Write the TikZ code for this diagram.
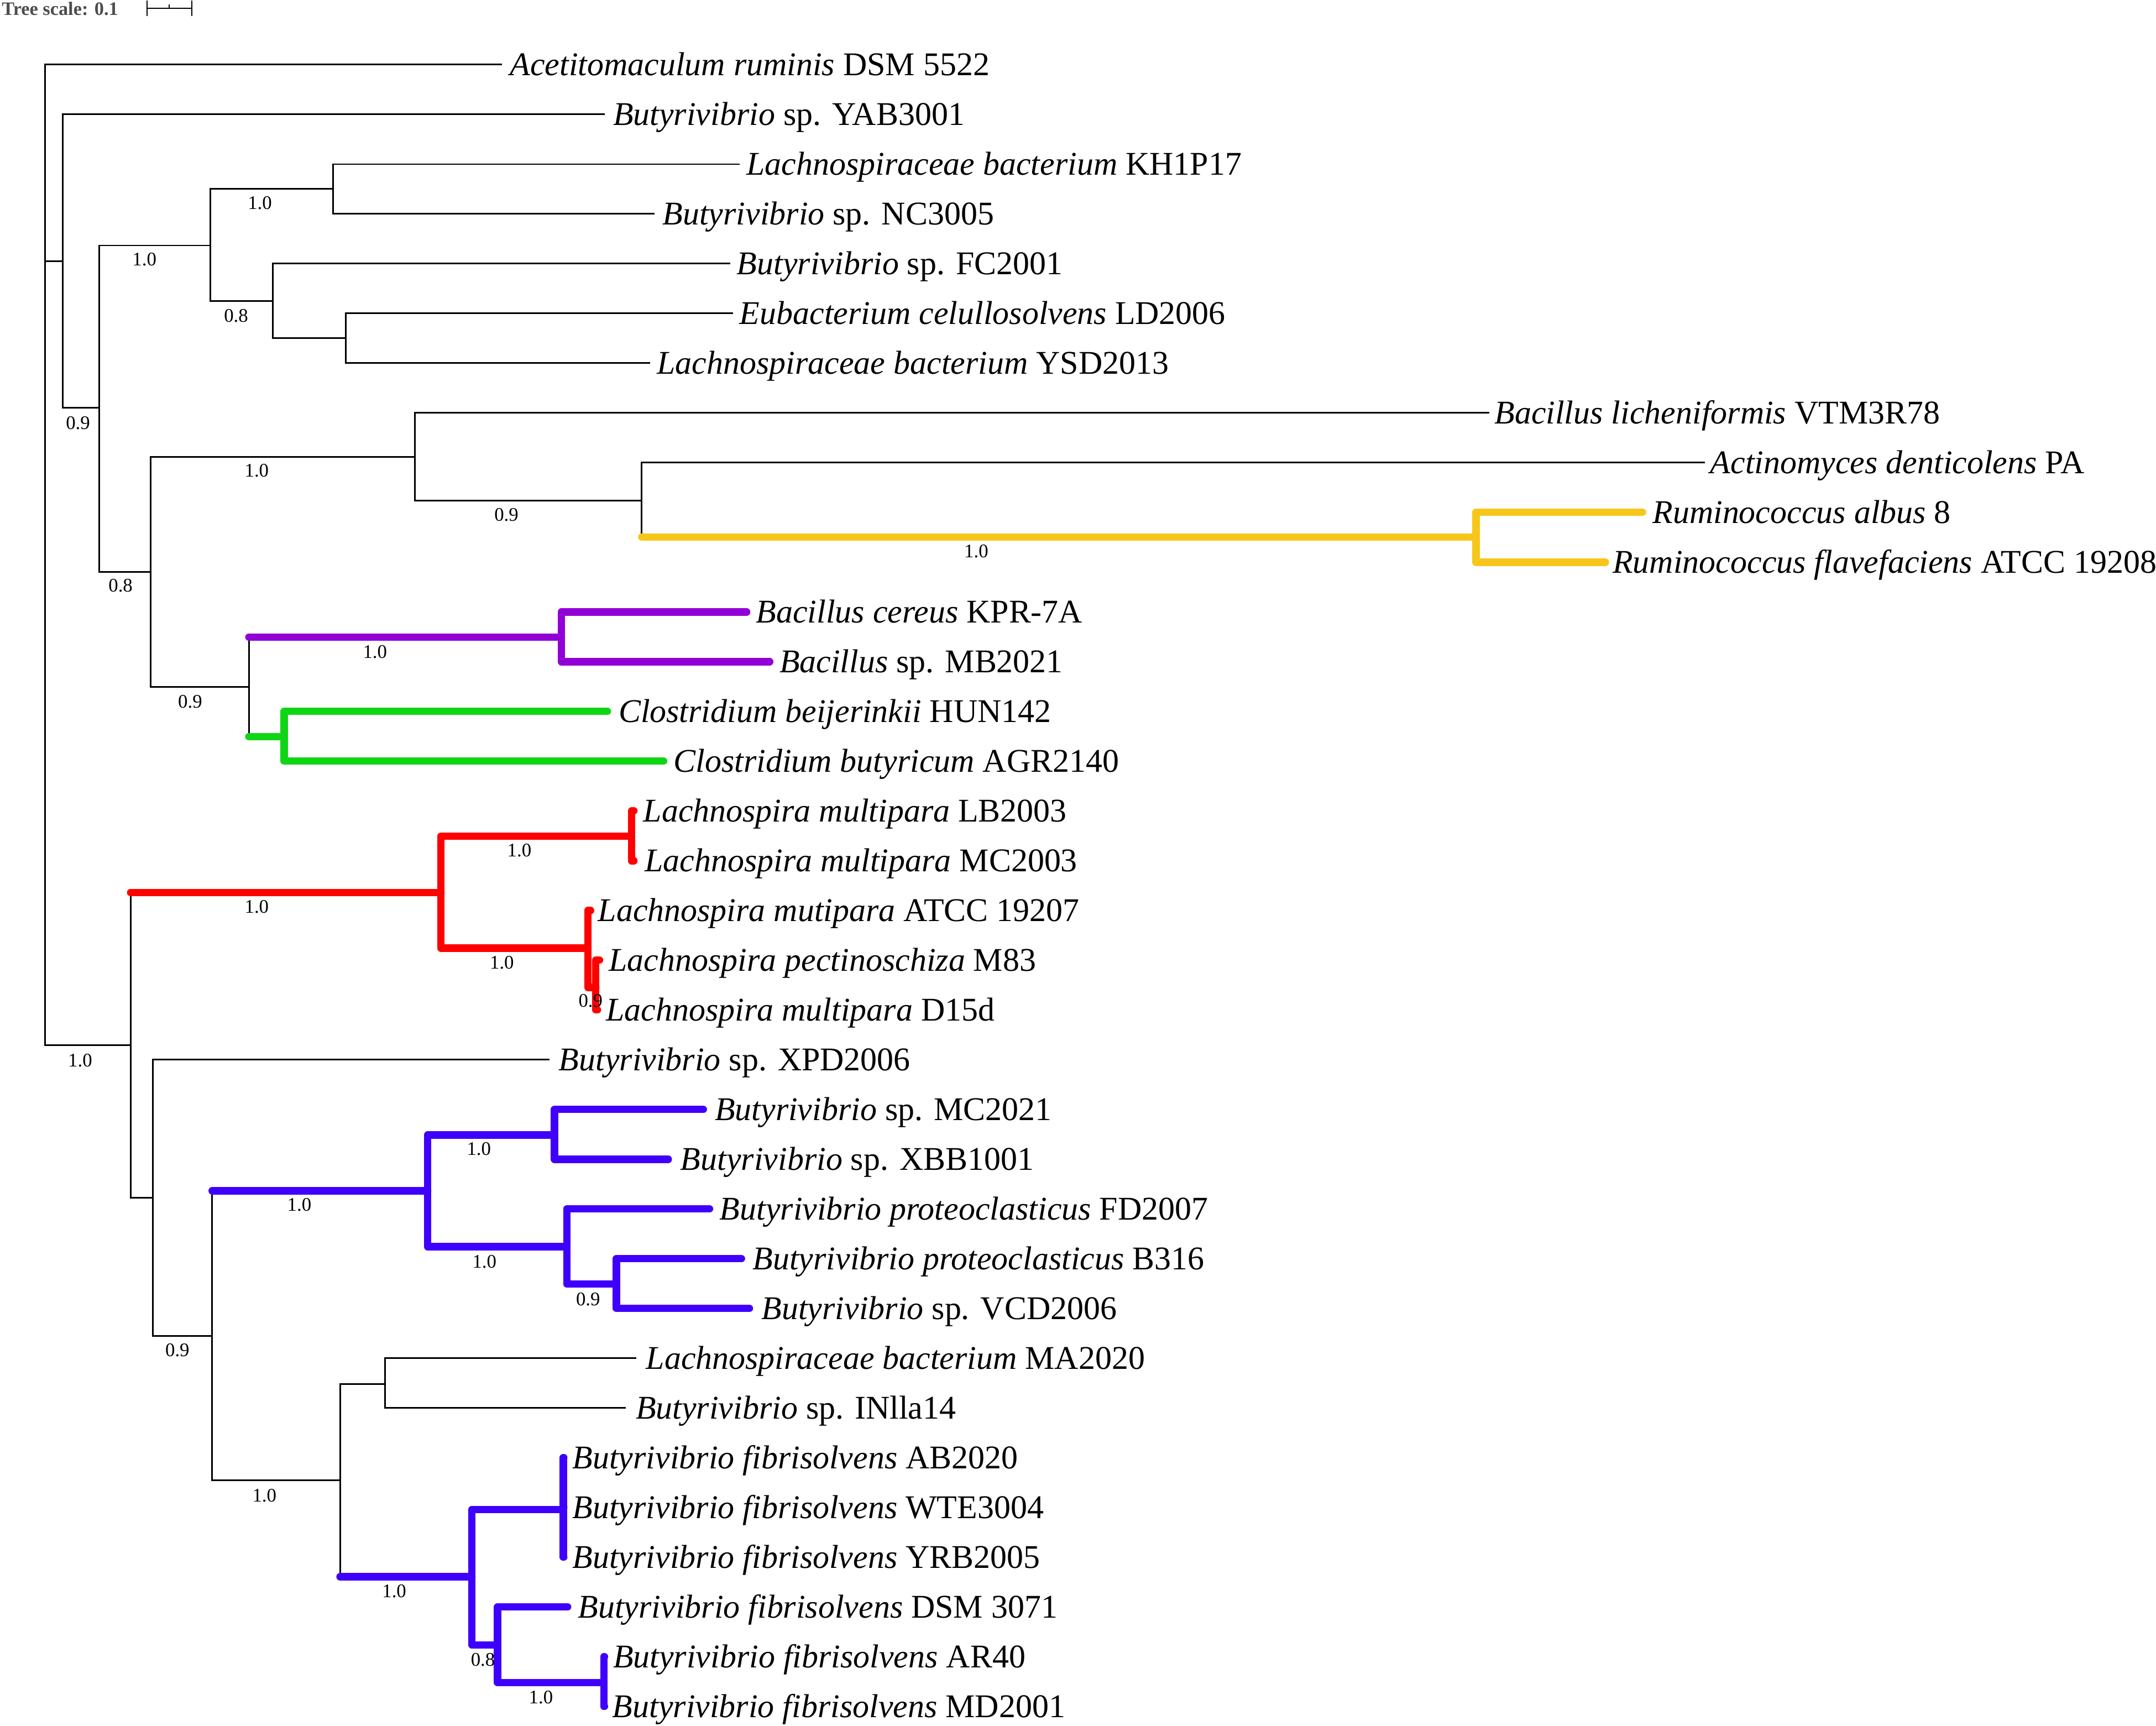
\documentclass[tikz,border=0pt]{standalone}
\usepackage{fontspec}
\setmainfont{Liberation Serif}
\definecolor{cyel}{RGB}{246,198,26}
\definecolor{cpur}{RGB}{145,0,214}
\definecolor{cgrn}{RGB}{14,214,20}
\definecolor{cred}{RGB}{255,0,0}
\definecolor{cblu}{RGB}{62,0,252}
\definecolor{cgray}{RGB}{77,77,77}
\begin{document}
\begin{tikzpicture}[x=0.5pt,y=-0.5pt,
  br/.style={line width=0.6pt, draw=black},
  clade/.style={line width=2.7pt, line cap=round, line join=round, draw=#1},
  leaf/.style={anchor=base west, inner sep=0pt, font=\fontsize{12.05}{14}\selectfont},
  bs/.style={inner sep=0pt, font=\fontsize{7}{8}\selectfont}]
\useasboundingbox (0,0) rectangle (1568,1255);

% ---- tree scale
\node[anchor=west, inner sep=0pt, text=cgray, font=\fontsize{6.9}{8}\selectfont\bfseries] (ts) at (1.0,6.3) {Tree scale: 0.1};
\coordinate (sa) at (107,6);
\coordinate (sb) at (139.5,6);
\coordinate (sm) at (123,6);
\draw[black, line width=0.5pt] (sa) -- (sb);
\draw[black, line width=0.5pt] ([yshift=2.8]sa) -- ([yshift=-2.8]sa);
\draw[black, line width=0.5pt] ([yshift=2.8]sb) -- ([yshift=-2.8]sb);
\draw[black, line width=0.4pt] (sm) -- ([yshift=1.4]sm);

% ---- leaf tips
\coordinate (t1) at (365,47.0);
\coordinate (t2) at (440,83.2);
\coordinate (t3) at (538,119.4);
\coordinate (t4) at (476,155.5);
\coordinate (t5) at (531,191.7);
\coordinate (t6) at (533,227.9);
\coordinate (t7) at (472.7,264.1);
\coordinate (t8) at (1083,300.3);
\coordinate (t9) at (1240,336.4);
\coordinate (t10) at (1194.5,372.6);
\coordinate (t11) at (1167.5,408.8);
\coordinate (t12) at (543,445.0);
\coordinate (t13) at (559.8,481.2);
\coordinate (t14) at (441.7,517.3);
\coordinate (t15) at (482.6,553.5);
\coordinate (t16) at (461,589.7);
\coordinate (t17) at (461,625.9);
\coordinate (t18) at (429.5,662.1);
\coordinate (t19) at (436,698.2);
\coordinate (t20) at (434.5,734.4);
\coordinate (t21) at (399.6,770.6);
\coordinate (t22) at (511.5,806.8);
\coordinate (t23) at (486,843.0);
\coordinate (t24) at (516,879.1);
\coordinate (t25) at (539.2,915.3);
\coordinate (t26) at (545,951.5);
\coordinate (t27) at (462.6,987.7);
\coordinate (t28) at (455.2,1023.9);
\coordinate (t29) at (410,1060.0);
\coordinate (t30) at (410,1096.2);
\coordinate (t31) at (410,1132.4);
\coordinate (t32) at (412.8,1168.6);
\coordinate (t33) at (439.6,1204.8);
\coordinate (t34) at (439.6,1241.0);

% ---- internal nodes
\coordinate (R) at (32.7,403);
\coordinate (A) at (45.7,190);
\coordinate (B) at (72.3,296.6);
\coordinate (C) at (153,178.5);
\coordinate (E) at (242.3,137.4);
\coordinate (F) at (198.3,219);
\coordinate (G) at (251.3,246);
\coordinate (D) at (109.7,416);
\coordinate (H) at (301.7,332.2);
\coordinate (I) at (466.7,364);
\coordinate (Y) at (1073.5,390.5);
\coordinate (K) at (181,499.5);
\coordinate (P) at (408.3,463.4);
\coordinate (Gn) at (206.7,535.8);
\coordinate (Z) at (95,760.2);
\coordinate (Rd) at (320.7,649);
\coordinate (R1) at (459.3,608);
\coordinate (R2) at (427.5,689.5);
\coordinate (R3) at (433.3,718);
\coordinate (Q) at (111,871);
\coordinate (S) at (154.3,971.4);
\coordinate (Bl) at (311,866);
\coordinate (U) at (403.3,825.4);
\coordinate (V) at (412.3,906.6);
\coordinate (W) at (448.3,933.8);
\coordinate (T) at (247.3,1076.6);
\coordinate (X) at (280,1006.6);
\coordinate (Bf) at (343.2,1146.6);
\coordinate (F3) at (409.6,1097.7);
\coordinate (M) at (361.9,1196.2);
\coordinate (N) at (439.2,1223.6);

% ---- black branches
\draw[br] (R) |- (t1);
\draw[br] (R) |- (A);
\draw[br] (R) |- (Z);
\draw[br] (A) |- (t2);
\draw[br] (A) |- (B);
\draw[br] (B) |- (C);
\draw[br] (B) |- (D);
\draw[br] (C) |- (E);
\draw[br] (C) |- (F);
\draw[br] (E) |- (t3);
\draw[br] (E) |- (t4);
\draw[br] (F) |- (t5);
\draw[br] (F) |- (G);
\draw[br] (G) |- (t6);
\draw[br] (G) |- (t7);
\draw[br] (D) |- (H);
\draw[br] (D) |- (K);
\draw[br] (H) |- (t8);
\draw[br] (H) |- (I);
\draw[br] (I) |- (t9);
\draw[br] (I) |- (Y);
\draw[br] (K) |- (P);
\draw[br] (K) |- (Gn);
\draw[br] (Z) |- (Rd);
\draw[br] (Z) |- (Q);
\draw[br] (Q) |- (t21);
\draw[br] (Q) |- (S);
\draw[br] (S) |- (Bl);
\draw[br] (S) |- (T);
\draw[br] (T) |- (X);
\draw[br] (T) |- (Bf);
\draw[br] (X) |- (t27);
\draw[br] (X) |- (t28);

% ---- coloured clades
\draw[clade=cyel] (I |- Y) -- (Y);
\draw[clade=cyel] (Y) |- (t10);
\draw[clade=cyel] (Y) |- (t11);

\draw[clade=cpur] (K |- P) -- (P);
\draw[clade=cpur] (P) |- (t12);
\draw[clade=cpur] (P) |- (t13);

\draw[clade=cgrn] (K |- Gn) -- (Gn);
\draw[clade=cgrn] (Gn) |- (t14);
\draw[clade=cgrn] (Gn) |- (t15);

\draw[clade=cred] (Z |- Rd) -- (Rd);
\draw[clade=cred] (Rd) |- (R1);
\draw[clade=cred] (Rd) |- (R2);
\draw[clade=cred] (R1) |- (t16);
\draw[clade=cred] (R1) |- (t17);
\draw[clade=cred] (R2) |- (t18);
\draw[clade=cred] (R2) |- (R3);
\draw[clade=cred] (R3) |- (t19);
\draw[clade=cred] (R3) |- (t20);

\draw[clade=cblu] (S |- Bl) -- (Bl);
\draw[clade=cblu] (Bl) |- (U);
\draw[clade=cblu] (Bl) |- (V);
\draw[clade=cblu] (U) |- (t22);
\draw[clade=cblu] (U) |- (t23);
\draw[clade=cblu] (V) |- (t24);
\draw[clade=cblu] (V) |- (W);
\draw[clade=cblu] (W) |- (t25);
\draw[clade=cblu] (W) |- (t26);

\draw[clade=cblu] (T |- Bf) -- (Bf);
\draw[clade=cblu] (Bf) |- (F3);
\draw[clade=cblu] (Bf) |- (M);
\draw[clade=cblu] (F3) |- (t29);
\draw[clade=cblu] (F3) |- (t30);
\draw[clade=cblu] (F3) |- (t31);
\draw[clade=cblu] (M) |- (t32);
\draw[clade=cblu] (M) |- (N);
\draw[clade=cblu] (N) |- (t33);
\draw[clade=cblu] (N) |- (t34);

% ---- support values
\node[bs] (sB) at (56.7,307.7) {0.9};
\node[bs] (sC) at (105,188.7) {1.0};
\node[bs] (sE) at (189,147.7) {1.0};
\node[bs] (sF) at (171.7,229.7) {0.8};
\node[bs] (sD) at (87.7,426) {0.8};
\node[bs] (sH) at (186.7,342.4) {1.0};
\node[bs] (sI) at (368.3,374.2) {0.9};
\node[bs] (sY) at (710,401) {1.0};
\node[bs] (sK) at (138.3,510.2) {0.9};
\node[bs] (sP) at (272.7,473.9) {1.0};
\node[bs] (sZ) at (58.3,771) {1.0};
\node[bs] (sRd) at (186.7,659.3) {1.0};
\node[bs] (sR1) at (377.7,618.3) {1.0};
\node[bs] (sR2) at (365,700) {1.0};
\node[bs] (sR3) at (429.5,727.8) {0.9};
\node[bs] (sS) at (129,982) {0.9};
\node[bs] (sBl) at (217.7,876.3) {1.0};
\node[bs] (sU) at (348.3,835.7) {1.0};
\node[bs] (sV) at (352.3,917.7) {1.0};
\node[bs] (sW) at (427.7,944.9) {0.9};
\node[bs] (sT) at (192.3,1087.4) {1.0};
\node[bs] (sBf) at (286.7,1157.2) {1.0};
\node[bs] (sM) at (351.2,1207) {0.8};
\node[bs] (sN) at (393.4,1234.4) {1.0};

% ---- leaf labels
\node[leaf] (n1) at (370.5,55.0) {\textit{Acetitomaculum ruminis} DSM 5522};
\node[leaf] (n2) at (445.5,91.2) {\textit{Butyrivibrio} sp. YAB3001};
\node[leaf] (n3) at (542.5,127.4) {\textit{Lachnospiraceae bacterium} KH1P17};
\node[leaf] (n4) at (481.5,163.5) {\textit{Butyrivibrio} sp. NC3005};
\node[leaf] (n5) at (535.5,199.7) {\textit{Butyrivibrio} sp. FC2001};
\node[leaf] (n6) at (537.5,235.9) {\textit{Eubacterium celullosolvens} LD2006};
\node[leaf] (n7) at (477.5,272.1) {\textit{Lachnospiraceae bacterium} YSD2013};
\node[leaf] (n8) at (1086.5,308.3) {\textit{Bacillus licheniformis} VTM3R78};
\node[leaf] (n9) at (1243.5,344.4) {\textit{Actinomyces denticolens} PA};
\node[leaf] (n10) at (1201.5,380.6) {\textit{Ruminococcus albus} 8};
\node[leaf] (n11) at (1172.5,416.8) {\textit{Ruminococcus flavefaciens} ATCC 19208};
\node[leaf] (n12) at (549.5,453.0) {\textit{Bacillus cereus} KPR-7A};
\node[leaf] (n13) at (566.5,489.2) {\textit{Bacillus} sp. MB2021};
\node[leaf] (n14) at (449.5,525.3) {\textit{Clostridium beijerinkii} HUN142};
\node[leaf] (n15) at (489.5,561.5) {\textit{Clostridium butyricum} AGR2140};
\node[leaf] (n16) at (467.5,597.7) {\textit{Lachnospira multipara} LB2003};
\node[leaf] (n17) at (468.5,633.9) {\textit{Lachnospira multipara} MC2003};
\node[leaf] (n18) at (434.5,670.1) {\textit{Lachnospira mutipara} ATCC 19207};
\node[leaf] (n19) at (442.5,706.2) {\textit{Lachnospira pectinoschiza} M83};
\node[leaf] (n20) at (440.5,742.4) {\textit{Lachnospira multipara} D15d};
\node[leaf] (n21) at (406,778.6) {\textit{Butyrivibrio} sp. XPD2006};
\node[leaf] (n22) at (519.5,814.8) {\textit{Butyrivibrio} sp. MC2021};
\node[leaf] (n23) at (494.5,851.0) {\textit{Butyrivibrio} sp. XBB1001};
\node[leaf] (n24) at (523,887.1) {\textit{Butyrivibrio proteoclasticus} FD2007};
\node[leaf] (n25) at (547,923.3) {\textit{Butyrivibrio proteoclasticus} B316};
\node[leaf] (n26) at (553.5,959.5) {\textit{Butyrivibrio} sp. VCD2006};
\node[leaf] (n27) at (469.5,995.7) {\textit{Lachnospiraceae bacterium} MA2020};
\node[leaf] (n28) at (462,1031.9) {\textit{Butyrivibrio} sp. INlla14};
\node[leaf] (n29) at (416,1068.0) {\textit{Butyrivibrio fibrisolvens} AB2020};
\node[leaf] (n30) at (416,1104.2) {\textit{Butyrivibrio fibrisolvens} WTE3004};
\node[leaf] (n31) at (416,1140.4) {\textit{Butyrivibrio fibrisolvens} YRB2005};
\node[leaf] (n32) at (420,1176.6) {\textit{Butyrivibrio fibrisolvens} DSM 3071};
\node[leaf] (n33) at (445.5,1212.8) {\textit{Butyrivibrio fibrisolvens} AR40};
\node[leaf] (n34) at (445,1249.0) {\textit{Butyrivibrio fibrisolvens} MD2001};
\end{tikzpicture}
\end{document}
